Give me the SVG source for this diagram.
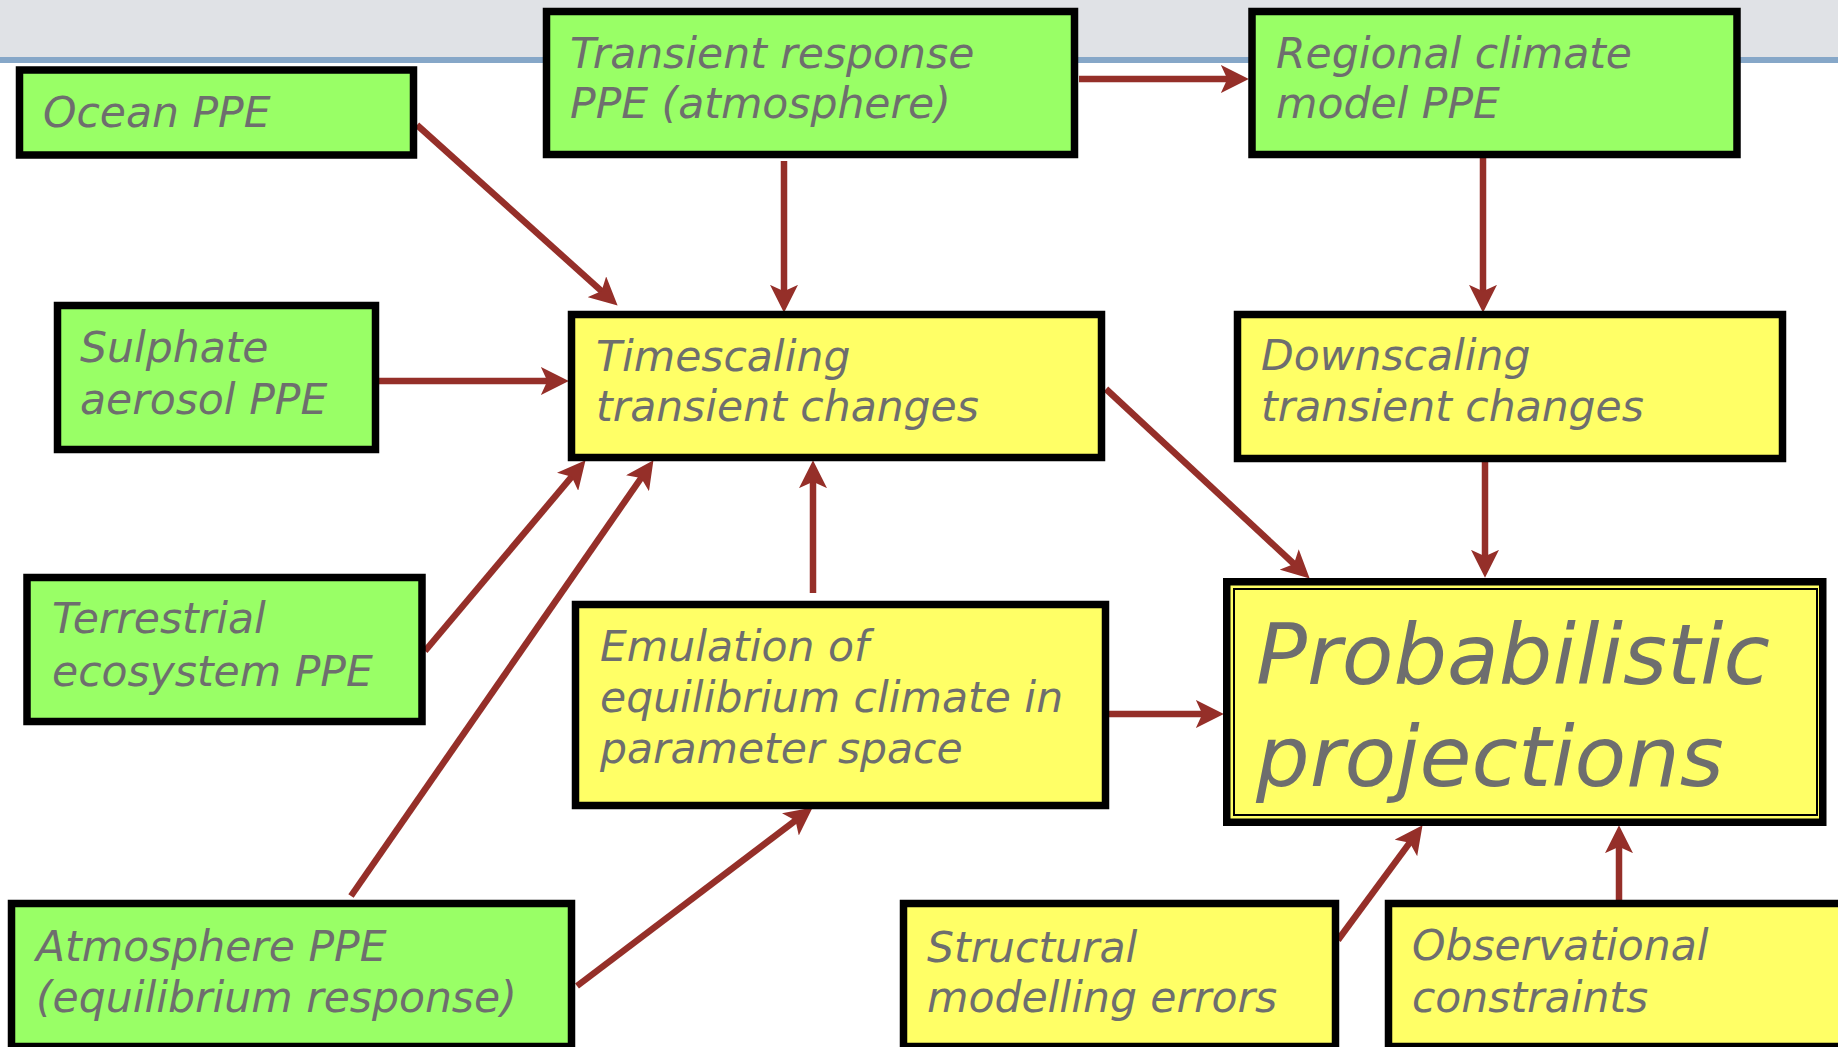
<svg xmlns="http://www.w3.org/2000/svg" width="1838" height="1047" viewBox="0 0 1838 1047">
<style>
.green{fill:#99FF66;stroke:#000;stroke-width:7.5}
.yellow{fill:#FFFF66;stroke:#000;stroke-width:7.5}
.t{font-family:"DejaVu Sans","Liberation Sans",sans-serif;font-style:italic;font-size:42.5px;fill:#6e6e6e}
.big{font-size:84.5px}
.c{stroke:#952F29;stroke-width:6.5;fill:none;marker-end:url(#ah)}
</style>
<defs>
<marker id="ah" markerUnits="userSpaceOnUse" markerWidth="28" markerHeight="28" viewBox="0 0 26 26" refX="15" refY="13" orient="auto">
<path d="M0,0 L26,13 L0,26 L6,13 Z" fill="#952F29"/>
</marker>
</defs>
<rect x="0" y="0" width="1838" height="57" fill="#E0E2E6"/>
<rect x="0" y="57" width="1838" height="6" fill="#86A7C8"/>
<g id="connectors">
<line class="c" x1="417" y1="125" x2="608.8" y2="297.6"/>
<line class="c" x1="784" y1="161" x2="784" y2="301"/>
<line class="c" x1="1079" y1="79" x2="1237" y2="79"/>
<line class="c" x1="1483" y1="158" x2="1483" y2="301"/>
<line class="c" x1="379" y1="381" x2="557" y2="381"/>
<line class="c" x1="425" y1="651" x2="577.9" y2="469.4"/>
<line class="c" x1="351" y1="896" x2="646.7" y2="470"/>
<line class="c" x1="577" y1="986" x2="803.2" y2="814.6"/>
<line class="c" x1="813" y1="593" x2="813" y2="472"/>
<line class="c" x1="1106" y1="389" x2="1301" y2="570.5"/>
<line class="c" x1="1485" y1="459" x2="1485" y2="566"/>
<line class="c" x1="1109" y1="714" x2="1212" y2="714"/>
<line class="c" x1="1338" y1="940" x2="1415.5" y2="834.9"/>
<line class="c" x1="1619" y1="900" x2="1619" y2="837"/>
</g>
<g id="ocean">
<rect class="green" x="19.5" y="70" width="394" height="85"/>
<text class="t" x="43" y="127">Ocean PPE</text>
</g>
<g id="transient">
<rect class="green" x="546.5" y="11.5" width="528" height="143"/>
<text class="t" x="570" y="68">Transient response</text>
<text class="t" x="570" y="118">PPE (atmosphere)</text>
</g>
<g id="regional">
<rect class="green" x="1252" y="11.5" width="485" height="143"/>
<text class="t" x="1276" y="68">Regional climate</text>
<text class="t" x="1276" y="118">model PPE</text>
</g>
<g id="sulphate">
<rect class="green" x="57.5" y="305.5" width="318" height="144"/>
<text class="t" x="80" y="362">Sulphate</text>
<text class="t" x="80" y="414">aerosol PPE</text>
</g>
<g id="timescaling">
<rect class="yellow" x="571.5" y="314.5" width="530" height="143"/>
<text class="t" x="596" y="371">Timescaling</text>
<text class="t" x="596" y="421">transient changes</text>
</g>
<g id="downscaling">
<rect class="yellow" x="1237.5" y="314.5" width="545" height="144"/>
<text class="t" x="1261" y="370">Downscaling</text>
<text class="t" x="1261" y="421">transient changes</text>
</g>
<g id="terrestrial">
<rect class="green" x="27" y="577.5" width="395" height="144"/>
<text class="t" x="52" y="633">Terrestrial</text>
<text class="t" x="52" y="686">ecosystem PPE</text>
</g>
<g id="emulation">
<rect class="yellow" x="575.5" y="604.5" width="530" height="201"/>
<text class="t" x="600" y="661">Emulation of</text>
<text class="t" x="600" y="712">equilibrium climate in</text>
<text class="t" x="600" y="763">parameter space</text>
</g>
<g id="probabilistic">
<rect class="yellow" x="1226.75" y="581.75" width="596" height="240.5"/>
<rect x="1234" y="589" width="583" height="226" fill="none" stroke="#000" stroke-width="2"/>
<text class="t big" x="1256" y="684">Probabilistic</text>
<text class="t big" x="1256" y="786">projections</text>
</g>
<g id="atmosphere">
<rect class="green" x="11.5" y="903.5" width="560" height="143"/>
<text class="t" x="36" y="961">Atmosphere PPE</text>
<text class="t" x="36" y="1012">(equilibrium response)</text>
</g>
<g id="structural">
<rect class="yellow" x="903.5" y="903.5" width="432" height="143"/>
<text class="t" x="927" y="962">Structural</text>
<text class="t" x="927" y="1012">modelling errors</text>
</g>
<g id="observational">
<rect class="yellow" x="1388.5" y="903.5" width="470" height="143"/>
<text class="t" x="1412" y="960">Observational</text>
<text class="t" x="1412" y="1012">constraints</text>
</g>
</svg>
